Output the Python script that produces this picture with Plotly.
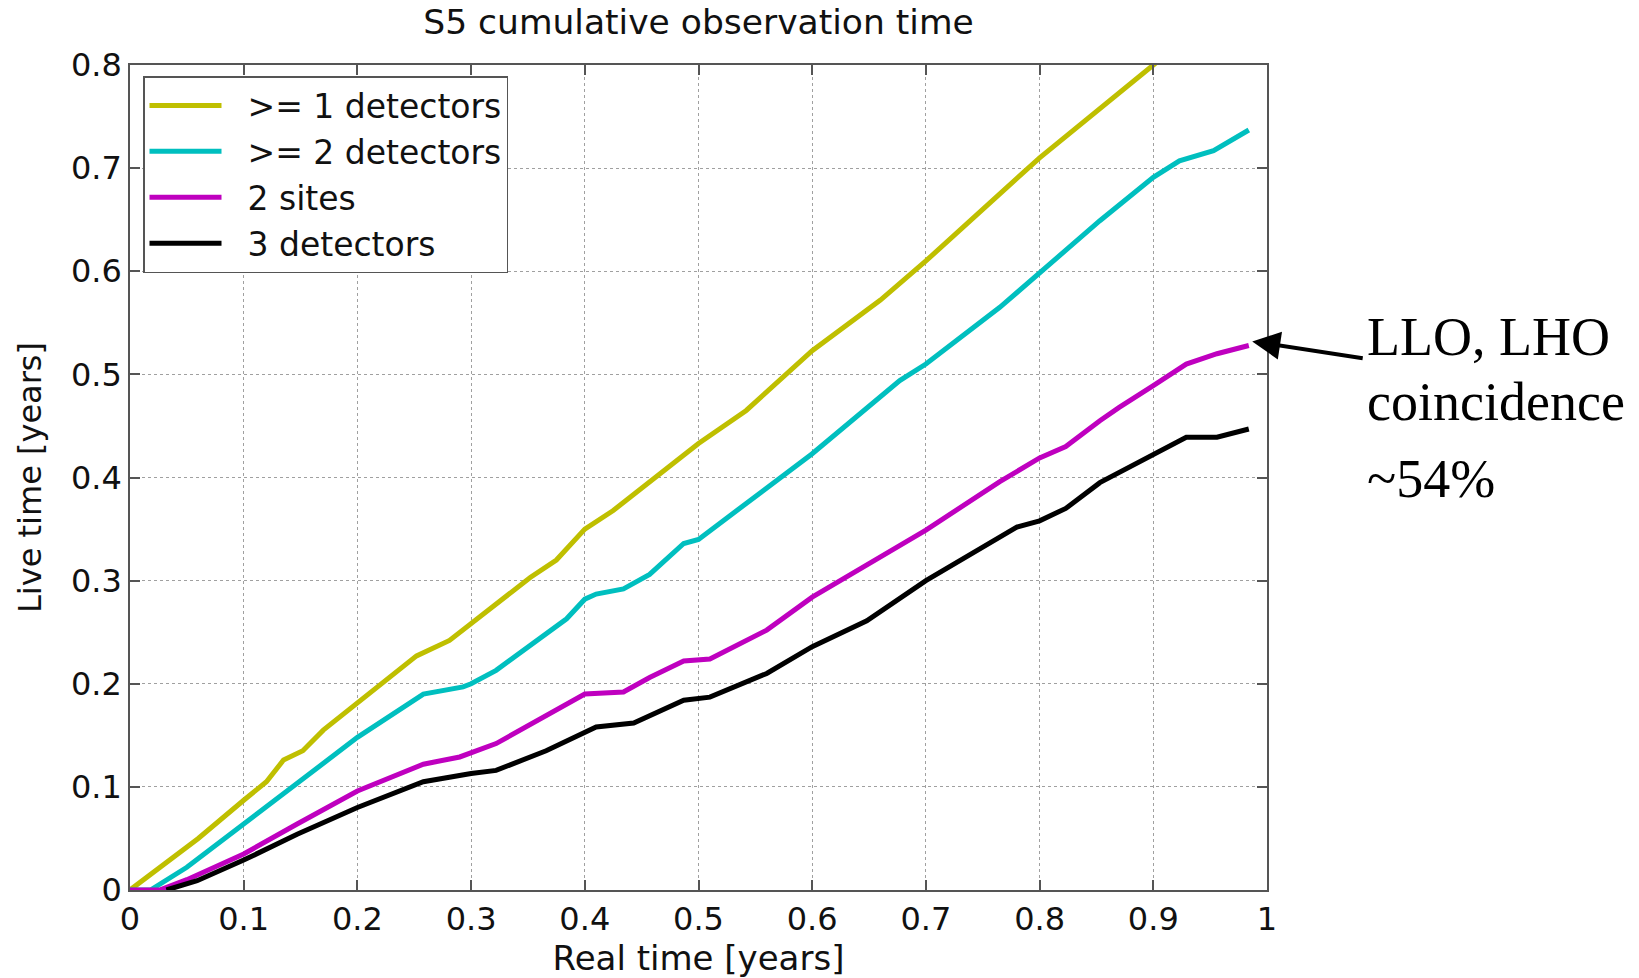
import plotly.graph_objects as go

# ---- data ----
x_ge1 = [0, 0.029, 0.06, 0.1, 0.12, 0.135, 0.152, 0.17, 0.2, 0.252, 0.281, 0.3, 0.322, 0.352, 0.375, 0.4,
         0.425, 0.455, 0.484, 0.5, 0.542, 0.6, 0.66, 0.7, 0.765, 0.8, 0.9, 0.985]
y_ge1 = [0, 0.024, 0.05, 0.087, 0.105, 0.126, 0.135, 0.155, 0.181, 0.227, 0.242, 0.258, 0.277, 0.303, 0.32,
         0.35, 0.368, 0.394, 0.42, 0.433, 0.465, 0.523, 0.572, 0.61, 0.675, 0.71, 0.80, 0.875]

x_ge2 = [0, 0.018, 0.05, 0.1, 0.15, 0.2, 0.258, 0.293, 0.3, 0.322, 0.384, 0.4, 0.41, 0.434, 0.457, 0.487,
         0.5, 0.545, 0.557, 0.6, 0.677, 0.7, 0.765, 0.8, 0.853, 0.9, 0.923, 0.953, 0.984]
y_ge2 = [0, 0, 0.022, 0.064, 0.105, 0.148, 0.19, 0.197, 0.2, 0.213, 0.263, 0.282, 0.287, 0.292, 0.306,
         0.336, 0.34, 0.378, 0.388, 0.423, 0.494, 0.51, 0.565, 0.598, 0.649, 0.691, 0.707, 0.717, 0.737]

x_2s = [0, 0.026, 0.05, 0.088, 0.1, 0.147, 0.2, 0.258, 0.29, 0.322, 0.4, 0.434, 0.457, 0.487, 0.51, 0.56,
        0.6, 0.7, 0.765, 0.8, 0.823, 0.853, 0.87, 0.9, 0.929, 0.956, 0.984]
y_2s = [0, 0, 0.01, 0.029, 0.035, 0.064, 0.096, 0.122, 0.129, 0.142, 0.19, 0.192, 0.206, 0.222, 0.224,
        0.252, 0.284, 0.349, 0.396, 0.419, 0.43, 0.455, 0.468, 0.489, 0.51, 0.52, 0.528]

x_3d = [0.032, 0.059, 0.1, 0.147, 0.2, 0.258, 0.3, 0.322, 0.366, 0.4, 0.41, 0.443, 0.457, 0.487, 0.51,
        0.56, 0.6, 0.648, 0.7, 0.78, 0.8, 0.823, 0.853, 0.87, 0.9, 0.929, 0.956, 0.984]
y_3d = [0, 0.009, 0.029, 0.054, 0.08, 0.105, 0.113, 0.116, 0.135, 0.153, 0.158, 0.162, 0.169, 0.184,
        0.187, 0.21, 0.236, 0.261, 0.3, 0.352, 0.358, 0.37, 0.395, 0.405, 0.423, 0.439, 0.439, 0.447]

series_names = [">= 1 detectors", ">= 2 detectors", "2 sites", "3 detectors"]
series_colors = ["#BFBF00", "#00BFBF", "#BF00BF", "#000000"]

x_ticks = [0, 0.1, 0.2, 0.3, 0.4, 0.5, 0.6, 0.7, 0.8, 0.9, 1]
x_ticklabels = ["0", "0.1", "0.2", "0.3", "0.4", "0.5", "0.6", "0.7", "0.8", "0.9", "1"]
y_ticks = [0, 0.1, 0.2, 0.3, 0.4, 0.5, 0.6, 0.7, 0.8]
y_ticklabels = ["0", "0.1", "0.2", "0.3", "0.4", "0.5", "0.6", "0.7", "0.8"]

title_text = "S5 cumulative observation time"
x_title = "Real time [years]"
y_title = "Live time [years]"
note_lines = ["LLO, LHO", "coincidence", "~54%"]
arrow_target = (0.987, 0.532)

# ---- figure ----
W, H = 1639, 978
ML, MR, MT, MB = 130, 372, 65, 88
PW, PH = W - ML - MR, H - MT - MB
SANS = "DejaVu Sans, Liberation Sans, Arial"
TXT = "#111111"

fig = go.Figure()
for xs, ys, name, col in zip([x_ge1, x_ge2, x_2s, x_3d], [y_ge1, y_ge2, y_2s, y_3d], series_names, series_colors):
    fig.add_trace(go.Scatter(x=xs, y=ys, mode="lines", name="\u00a0\u00a0" + name,
                             line=dict(color=col, width=5)))

axis_common = dict(
    showline=True, linecolor="#555555", linewidth=1.5, mirror="ticks",
    ticks="inside", ticklen=10, tickcolor="#555555", tickwidth=1.5,
    showgrid=True, gridcolor="#a0a0a0", griddash="dot", gridwidth=1,
    zeroline=False, automargin=False,
    tickfont=dict(family=SANS, size=32, color=TXT),
)
fig.update_xaxes(range=[0, 1], tickvals=x_ticks, ticktext=x_ticklabels,
                 title=dict(text=x_title, font=dict(family=SANS, size=34, color=TXT), standoff=8),
                 **axis_common)
fig.update_yaxes(range=[0, 0.8], tickvals=y_ticks, ticktext=y_ticklabels,
                 title=dict(text=y_title, font=dict(family=SANS, size=32, color=TXT), standoff=20),
                 **axis_common)

fig.update_layout(
    width=W, height=H,
    margin=dict(l=ML, r=MR, t=MT, b=MB, autoexpand=False),
    paper_bgcolor="white", plot_bgcolor="white",
    title=dict(text=title_text, x=(ML + PW / 2) / W, xanchor="center", y=1 - 22 / H, yanchor="middle",
               yref="container", font=dict(family=SANS, size=34.5, color=TXT)),
    legend=dict(x=(143 - ML) / PW, y=1 - (76 - MT) / PH, xanchor="left", yanchor="top",
                bgcolor="white", bordercolor="#555555", borderwidth=1.5,
                font=dict(family=SANS, size=33, color=TXT),
                itemwidth=72, tracegroupgap=0),
    showlegend=True,
)

# arrow pointing at the end of the "2 sites" curve
fig.add_annotation(x=arrow_target[0], y=arrow_target[1], xref="x", yref="y",
                   ax=112, ay=17,
                   showarrow=True, arrowhead=2, arrowsize=1.4, arrowwidth=4, arrowcolor="black",
                   text="")

note_y_px = [337, 402, 479]
for line, ypx in zip(note_lines, note_y_px):
    fig.add_annotation(x=(1365 - ML) / PW, y=1 - (ypx - MT) / PH, xref="paper", yref="paper",
                       xanchor="left", yanchor="middle", showarrow=False, text=line,
                       font=dict(family="Liberation Serif, Times New Roman", size=54, color="black"))

fig.write_html("out.html", config={"displayModeBar": False},
               post_script="document.body.style.margin='0px';")
